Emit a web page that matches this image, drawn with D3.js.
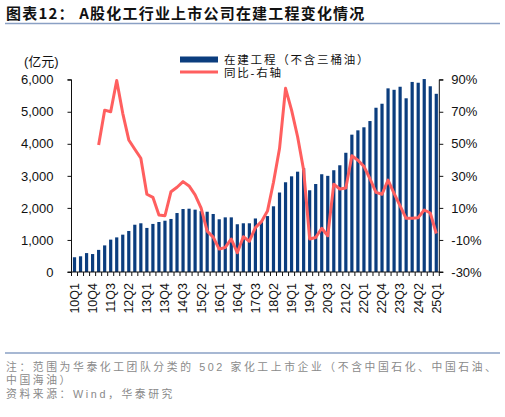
<!DOCTYPE html>
<html><head><meta charset="utf-8">
<script src="https://cdn.jsdelivr.net/npm/d3@7"></script>
<style>
html,body{margin:0;padding:0;background:#fff;}
svg{display:block;}
.cjk{font-family:"Noto Sans CJK SC","Noto Sans",sans-serif;}
.mix{font-family:"Liberation Sans","Noto Sans CJK SC",sans-serif;}
.num{font-family:"Liberation Sans",Arial,sans-serif;}
</style></head>
<body><svg id="c" width="505" height="417"></svg>
<script>
const quarters = ["10Q1","10Q2","10Q3","10Q4","11Q1","11Q2","11Q3","11Q4","12Q1","12Q2","12Q3","12Q4",
"13Q1","13Q2","13Q3","13Q4","14Q1","14Q2","14Q3","14Q4","15Q1","15Q2","15Q3","15Q4",
"16Q1","16Q2","16Q3","16Q4","17Q1","17Q2","17Q3","17Q4","18Q1","18Q2","18Q3","18Q4",
"19Q1","19Q2","19Q3","19Q4","20Q1","20Q2","20Q3","20Q4","21Q1","21Q2","21Q3","21Q4",
"22Q1","22Q2","22Q3","22Q4","23Q1","23Q2","23Q3","23Q4","24Q1","24Q2","24Q3","24Q4","25Q1"];
const cip = [460,490,590,560,690,830,1010,1080,1165,1280,1475,1520,
1375,1500,1560,1600,1655,1840,1965,1975,1945,1900,1880,1810,
1645,1705,1705,1490,1520,1520,1670,1570,1745,2050,2480,2800,
2985,3130,3240,2550,2745,3050,3000,3175,3330,3720,4285,4420,
4515,4710,5125,5250,5730,5685,5780,5420,5930,5905,6020,5795,5560];
const yoy = [null,null,null,null,49.3,71,70,89.5,69,52.4,46.6,41,
18.5,16.6,5.6,5.1,20.1,22.9,26.4,23.7,18.1,9.8,-4.5,-8.2,
-15.7,-14.7,-9.4,-18,-8,-10.8,-2.3,1.4,8,26,47,84.6,
71,54.4,33.6,-9.4,-8.5,-2.7,-7.4,24.8,21.8,22.4,42.5,39.7,
35.9,28.2,19.7,18.5,27.4,19.1,11.3,3.5,3.5,3.9,8.7,6.8,-6];
const xLabels = quarters.filter((q,i)=>i%3===0);
const leftTicks = [0,1000,2000,3000,4000,5000,6000];
const rightTicks = [-30,-10,10,30,50,70,90];
const title = "图表12：  A股化工行业上市公司在建工程变化情况";
const legendNames = ["在建工程（不含三桶油）","同比-右轴"];
const unitLabel = "(亿元)";
const notes = ["注：范围为华泰化工团队分类的 502 家化工上市企业（不含中国石化、中国石油、","中国海油）","资料来源：Wind，华泰研究"];

const svg = d3.select("#c");
const L=71.5, R=439.3, T=79.7, B=272;
const xs = d3.scaleBand().domain(quarters).range([L,R]);
const yL = d3.scaleLinear().domain([0,6000]).range([B,T]);
const yR = d3.scaleLinear().domain([-30,90]).range([B,T]);

// title
svg.append("text").attr("class","cjk").attr("x",6).attr("y",19)
  .attr("font-size",15).attr("font-weight","bold").attr("fill","#111").style("letter-spacing","1.2px").text(title);
svg.append("line").attr("x1",5).attr("x2",500).attr("y1",23.5).attr("y2",23.5).attr("stroke","#8aa0c4").attr("stroke-width",1.3);

// bars
svg.append("g").selectAll("rect").data(quarters).join("rect")
  .attr("x",d=>xs(d)+xs.bandwidth()/2-1.6).attr("width",3.2)
  .attr("y",(d,i)=>yL(cip[i])).attr("height",(d,i)=>B-yL(cip[i]))
  .attr("fill","#0b3d7e");

// line
const line = d3.line().defined(d=>d.v!==null).x(d=>xs(d.q)+xs.bandwidth()/2).y(d=>yR(d.v));
svg.append("path").datum(quarters.map((q,i)=>({q,v:yoy[i]})))
  .attr("d",line).attr("fill","none").attr("stroke","#ff5f5f").attr("stroke-width",3).attr("stroke-linejoin","round");

// left axis
const gl = svg.append("g").attr("transform",`translate(${L},0)`)
  .call(d3.axisLeft(yL).tickValues(leftTicks).tickSize(4).tickPadding(14).tickFormat(d3.format(",")));
gl.selectAll("text").attr("class","num").attr("font-size",13).attr("fill","#111");
gl.selectAll("line,path").attr("stroke","#111");
gl.select(".domain").attr("d",`M-4,${B}H0V${T}H-4`);

// right axis
const gr = svg.append("g").attr("transform",`translate(${R},0)`)
  .call(d3.axisRight(yR).tickValues(rightTicks).tickSize(4).tickPadding(8).tickFormat(d=>d+"%"));
gr.selectAll("text").attr("class","num").attr("font-size",13).attr("fill","#111");
gr.selectAll("line,path").attr("stroke","#111");
gr.select(".domain").attr("d",`M4,${B}H0V${T}H4`);

// bottom axis line and ticks
const gb = svg.append("g");
gb.append("line").attr("x1",L).attr("x2",R).attr("y1",B).attr("y2",B).attr("stroke","#111");
gb.selectAll("line.t").data(quarters.concat(["end"])).join("line").attr("class","t")
  .attr("x1",(d,i)=>L+i*xs.step()).attr("x2",(d,i)=>L+i*xs.step())
  .attr("y1",B).attr("y2",B+4).attr("stroke","#111");
gb.selectAll("text").data(xLabels).join("text").attr("class","num")
  .attr("font-size",12.5).attr("fill","#111").attr("text-anchor","end")
  .attr("transform",d=>`translate(${xs(d)+xs.bandwidth()/2},283) rotate(-90)`)
  .attr("dy","0.35em").text(d=>d);

// unit
svg.append("text").attr("class","mix").attr("x",24).attr("y",66).attr("font-size",13).attr("fill","#111").text(unitLabel);

// legend
svg.append("rect").attr("x",180).attr("y",56.5).attr("width",38).attr("height",6).attr("fill","#0b3d7e");
svg.append("line").attr("x1",180).attr("x2",218).attr("y1",72).attr("y2",72).attr("stroke","#ff5f5f").attr("stroke-width",3);
svg.append("text").attr("class","mix").attr("x",224).attr("y",63.5).attr("font-size",11.5).attr("fill","#111").style("letter-spacing","1.8px").text(legendNames[0]);
svg.append("text").attr("class","mix").attr("x",224).attr("y",76.5).attr("font-size",11.5).attr("fill","#111").style("letter-spacing","1.8px").text(legendNames[1]);

// footer
svg.append("line").attr("x1",5).attr("x2",500).attr("y1",353).attr("y2",353).attr("stroke","#8aa0c4").attr("stroke-width",1.3);
notes.forEach((t,i)=>{
  svg.append("text").attr("class","mix").attr("x",6).attr("y",370.5+i*13.8).attr("font-size",10.8)
    .attr("fill","#8a8a8a").style("letter-spacing","2.6px").text(t);
});
</script></body></html>
